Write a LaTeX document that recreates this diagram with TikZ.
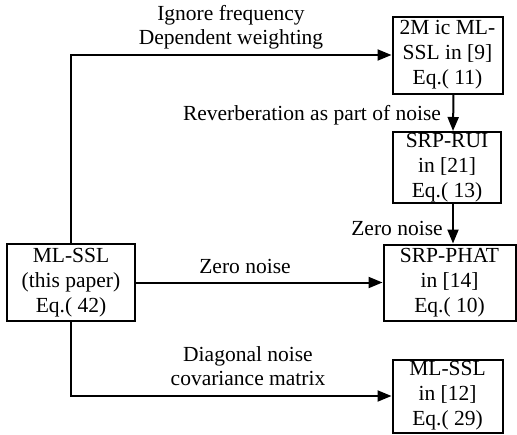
\documentclass[tikz,border=0pt]{standalone}
\usepackage{fontspec}
\setmainfont{Liberation Serif}
\usetikzlibrary{arrows.meta}
\begin{document}
\begin{tikzpicture}[x=1pt,y=-1pt,
  box/.style={draw,line width=2pt,align=center,inner sep=0pt,font=\fontsize{21.5}{25}\selectfont},
  lbl/.style={align=center,inner sep=0pt,font=\fontsize{21.5}{24.5}\selectfont},
  arr/.style={line width=2pt,-{Triangle[length=14pt,width=11pt]}}]
\useasboundingbox (0,0) rectangle (517,434);
\node[box,minimum width=110,minimum height=77] (A) at (447.5,55) {2M ic ML-\\SSL in [9]\\Eq.( 11)};
\node[box,minimum width=108,minimum height=71] (R) at (447,167.5) {SRP-RUI\\in [21]\\Eq.( 13)};
\node[box,minimum width=132,minimum height=76] (P) at (449.5,282.5) {SRP-PHAT\\in [14]\\Eq.( 10)};
\node[box,minimum width=128,minimum height=77] (L) at (71,282.5) {ML-SSL\\(this paper)\\Eq.( 42)};
\node[box,minimum width=110,minimum height=73] (M) at (447.5,396) {ML-SSL\\in [12]\\Eq.( 29)};
\draw[arr] (L.north) |- (A.west);
\draw[arr] ([xshift=6]A.south) -- ([xshift=6]R.north);
\draw[arr] ([xshift=6]R.south) -- ([xshift=6]R.south |- P.north);
\draw[arr] (L.east) -- (P.west);
\draw[arr] (L.south) |- (M.west);
\node[lbl] (t1) at (231,27) {Ignore frequency\\Dependent weighting};
\node[lbl] (t2) at (312,115) {Reverberation as part of noise};
\node[lbl] (t3) at (397,228) {Zero noise};
\node[lbl] (t4) at (245,266) {Zero noise};
\node[lbl] (t5) at (248,366) {Diagonal noise\\covariance matrix};
\end{tikzpicture}
\end{document}
